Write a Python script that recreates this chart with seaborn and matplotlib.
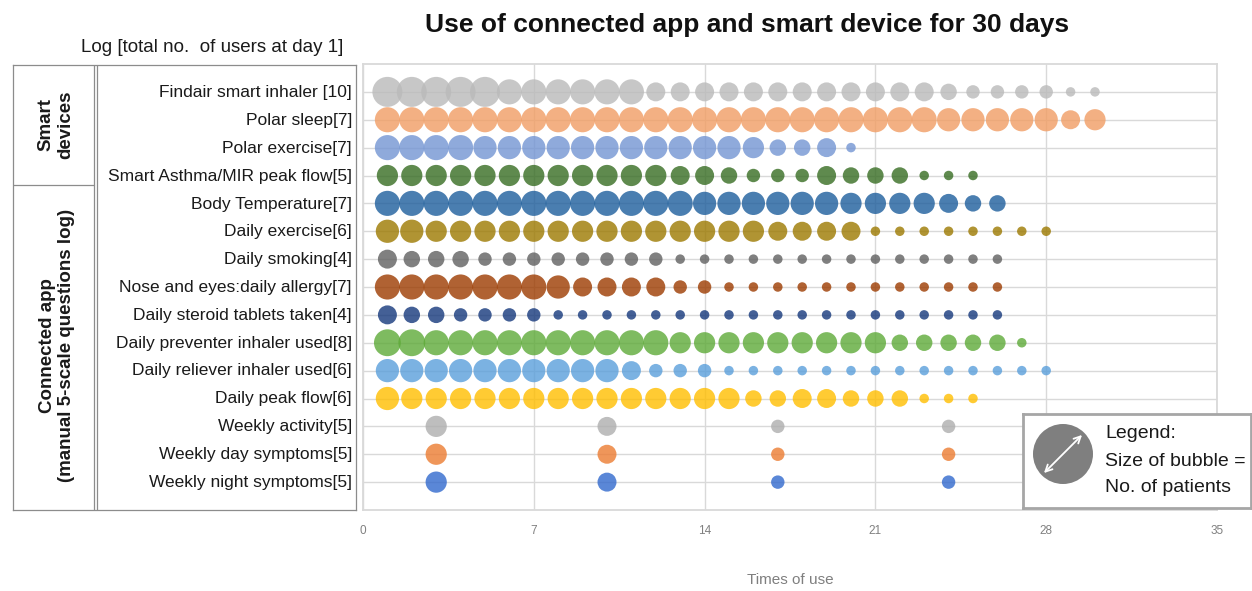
import pandas as pd
import numpy as np
import seaborn as sns
import matplotlib.pyplot as plt
from matplotlib.patches import Circle, FancyArrowPatch

# row labels (top to bottom)
items = ["Findair smart inhaler [10]", "Polar sleep[7]", "Polar exercise[7]",
         "Smart Asthma/MIR peak flow[5]", "Body Temperature[7]", "Daily exercise[6]",
         "Daily smoking[4]", "Nose and eyes:daily allergy[7]", "Daily steroid tablets taken[4]",
         "Daily preventer inhaler used[8]", "Daily reliever inhaler used[6]", "Daily peak flow[6]",
         "Weekly activity[5]", "Weekly day symptoms[5]", "Weekly night symptoms[5]"]

# no. of patients at each times-of-use value (daily items start at 1)
findair = [10, 10, 10, 10, 10, 7, 7, 7, 7, 7, 7, 4, 4, 4, 4, 4, 4, 4, 4, 4, 4, 4, 4, 3, 2, 2, 2, 2, 1, 1]
polar_sleep = [7, 7, 7, 7, 7, 7, 7, 7, 7, 7, 7, 7, 7, 7, 7, 7, 7, 7, 7, 7, 7, 7, 7, 6, 6, 6, 6, 6, 4, 5]
polar_exercise = [7, 7, 7, 7, 6, 6, 6, 6, 6, 6, 6, 6, 6, 6, 6, 5, 3, 3, 4, 1]
smart_asthma = [5, 5, 5, 5, 5, 5, 5, 5, 5, 5, 5, 5, 4, 4, 3, 2, 2, 2, 4, 3, 3, 3, 1, 1, 1]
body_temp = [7, 7, 7, 7, 7, 7, 7, 7, 7, 7, 7, 7, 7, 6, 6, 6, 6, 6, 6, 5, 5, 5, 5, 4, 3, 3]
daily_exercise = [6, 6, 5, 5, 5, 5, 5, 5, 5, 5, 5, 5, 5, 5, 5, 5, 4, 4, 4, 4, 1, 1, 1, 1, 1, 1, 1, 1]
daily_smoking = [4, 3, 3, 3, 2, 2, 2, 2, 2, 2, 2, 2, 1, 1, 1, 1, 1, 1, 1, 1, 1, 1, 1, 1, 1, 1]
nose_eyes = [7, 7, 7, 7, 7, 7, 7, 6, 4, 4, 4, 4, 2, 2, 1, 1, 1, 1, 1, 1, 1, 1, 1, 1, 1, 1]
steroid = [4, 3, 3, 2, 2, 2, 2, 1, 1, 1, 1, 1, 1, 1, 1, 1, 1, 1, 1, 1, 1, 1, 1, 1, 1, 1]
preventer = [8, 8, 7, 7, 7, 7, 7, 7, 7, 7, 7, 7, 5, 5, 5, 5, 5, 5, 5, 5, 5, 3, 3, 3, 3, 3, 1]
reliever = [6, 6, 6, 6, 6, 6, 6, 6, 6, 6, 4, 2, 2, 2, 1, 1, 1, 1, 1, 1, 1, 1, 1, 1, 1, 1, 1, 1]
peak_flow = [6, 5, 5, 5, 5, 5, 5, 5, 5, 5, 5, 5, 5, 5, 5, 3, 3, 4, 4, 3, 3, 3, 1, 1, 1]
# weekly items
weekly_x = [3, 10, 17, 24]
weekly_activity = [5, 4, 2, 2]
weekly_day = [5, 4, 2, 2]
weekly_night = [5, 4, 2, 2]

colors = ["#BABABA", "#F19D64", "#7395D3", "#376D22", "#1D5E9C", "#9C7900",
          "#606060", "#9C3B00", "#15387C", "#5EAA38", "#5A9FDB", "#FFBE00",
          "#AEAEAE", "#EC7C31", "#3169CD"]

daily = [findair, polar_sleep, polar_exercise, smart_asthma, body_temp, daily_exercise,
         daily_smoking, nose_eyes, steroid, preventer, reliever, peak_flow]
weekly = [weekly_activity, weekly_day, weekly_night]

rows = []
for i, vals in enumerate(daily):
    for d, v in enumerate(vals, start=1):
        rows.append((items[i], i + 1, d, v))
for j, vals in enumerate(weekly):
    for d, v in zip(weekly_x, vals):
        rows.append((items[12 + j], 13 + j, d, v))
df = pd.DataFrame(rows, columns=["item", "row", "times", "patients"])

W, H = 1252, 591
sns.set_theme(style="white")
plt.rcParams['font.family'] = ['Liberation Sans', 'DejaVu Sans']

fig = plt.figure(figsize=(W / 100, H / 100), dpi=100)
ax = fig.add_axes([363 / W, 1 - 510 / H, (1217 - 363) / W, (510 - 64) / H])

grid_c = "#D9D9D9"
ax.set_xlim(0, 35)
ax.set_ylim(16, 0)
ax.set_xticks([0, 7, 14, 21, 28, 35])
ax.set_yticks(range(1, 16))
ax.set_yticklabels([])
ax.grid(True, color=grid_c, linewidth=1.0)
ax.set_axisbelow(True)
for s in ax.spines.values():
    s.set_color(grid_c)
    s.set_linewidth(1.3)
ax.tick_params(axis="both", length=0)
ax.tick_params(axis="x", pad=11, labelsize=8.5, labelcolor="#808080")

sns.scatterplot(data=df, x="times", y="row", hue="item", palette=dict(zip(items, colors)),
                size="patients", sizes=(46.7, 467), size_norm=(1, 10),
                alpha=0.8, linewidth=0, legend=False, ax=ax)
ax.set_ylabel("")
ax.set_xlabel("Times of use", fontsize=11, color="#7F7F7F", labelpad=26)

# left table with labels
tab = fig.add_axes([13 / W, 1 - 510 / H, (356 - 13) / W, (510 - 65) / H])
tab.set_xlim(13, 356)
tab.set_ylim(16, 0)
tab.set_xticks([])
tab.set_yticks([])
for s in tab.spines.values():
    s.set_color("#8C8C8C")
    s.set_linewidth(0.9)
line_c = "#8C8C8C"
tab.axvline(94, color=line_c, lw=0.9)
tab.axvline(97.5, color=line_c, lw=0.9)
tab.plot([13, 94], [4.3, 4.3], color=line_c, lw=0.9)
for i, lab in enumerate(items):
    tab.text(352, i + 1, lab, ha="right", va="center", fontsize=12.5, color="#1A1A1A")
tab.text(56, 2.15, "Smart\ndevices", rotation=90, ha="center", va="center",
         multialignment="center", fontsize=13.5, fontweight="bold", color="#1A1A1A")
tab.text(57, 10.1, "Connected app\n(manual 5-scale questions log)", rotation=90,
         ha="center", va="center", multialignment="center", fontsize=13.5,
         fontweight="bold", color="#1A1A1A")

fig.text(212 / W, 1 - 47 / H, "Log [total no.  of users at day 1]", ha="center", va="center",
         fontsize=13.5, color="#1A1A1A")
fig.text(747 / W, 1 - 25 / H, "Use of connected app and smart device for 30 days",
         ha="center", va="center", fontsize=19, fontweight="bold", color="#111111")

# size legend box
lax = fig.add_axes([1023 / W, 1 - 508 / H, 228 / W, 94 / H])
lax.set_xlim(0, 228)
lax.set_ylim(0, 94)
lax.set_xticks([])
lax.set_yticks([])
lax.set_facecolor("white")
for s in lax.spines.values():
    s.set_color("#A6A6A6")
    s.set_linewidth(2)
lax.add_patch(Circle((40, 54), 30, color="#7F7F7F", lw=0))
lax.add_patch(FancyArrowPatch((19, 33), (61, 75), arrowstyle="<->", mutation_scale=12,
                              color="white", lw=1.3))
lax.text(82, 75, "Legend:", va="center", ha="left", fontsize=14, color="#1A1A1A")
lax.text(82, 46, "Size of bubble =", va="center", ha="left", fontsize=14, color="#1A1A1A")
lax.text(82, 21, "No. of patients", va="center", ha="left", fontsize=14, color="#1A1A1A")

fig.savefig("out.png", dpi=100, facecolor="white")
